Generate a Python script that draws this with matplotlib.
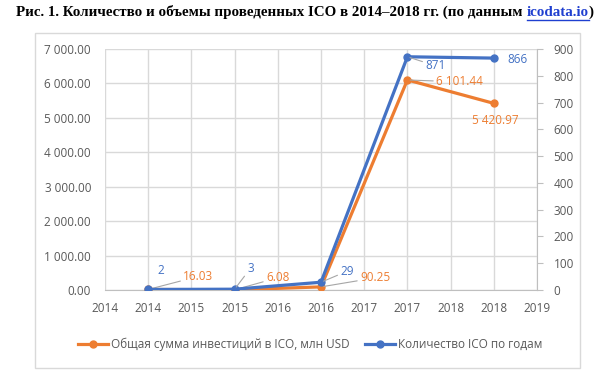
import matplotlib
matplotlib.use("Agg")
import matplotlib.pyplot as plt
import numpy as np
from matplotlib.patches import Rectangle
from matplotlib.lines import Line2D

# Data
years = [2014, 2015, 2016, 2017, 2018]
invest = [16.03, 6.08, 90.25, 6101.44, 5420.97]     # млн USD, left axis
ico_count = [2, 3, 29, 871, 866]                    # right axis
invest_labels = ["16.03", "6.08", "90.25", "6 101.44", "5 420.97"]
count_labels = ["2", "3", "29", "871", "866"]
x_tick_labels = ["2014", "2014", "2015", "2015", "2016", "2016",
                 "2017", "2017", "2018", "2018", "2019"]
left_ticks = [0, 1000, 2000, 3000, 4000, 5000, 6000, 7000]
left_tick_labels = ["0.00", "1 000.00", "2 000.00", "3 000.00",
                    "4 000.00", "5 000.00", "6 000.00", "7 000.00"]
right_ticks = [0, 100, 200, 300, 400, 500, 600, 700, 800, 900]
series_names = ["Общая сумма инвестиций в ICO, млн USD",
                "Количество ICO по годам"]

ORANGE = "#ED7D31"
BLUE = "#4472C4"
GRID = "#D9D9D9"
TXT = "#595959"
FONT = "Open Sans"
FS = 8.5

W, H = 610, 373
fig = plt.figure(figsize=(W / 100, H / 100), dpi=100)

# chart frame (Excel-like box)
fig.patches.append(Rectangle((35 / W, 1 - 368 / H), 545 / W, 335 / H,
                             transform=fig.transFigure, fill=False,
                             edgecolor=GRID, lw=1))

ax = fig.add_axes([105 / W, 1 - 290 / H, 432 / W, 241 / H])
ax2 = ax.twinx()

ax.plot(years, invest, color=ORANGE, lw=2.3, marker="o", ms=5, zorder=3)
ax2.plot(years, ico_count, color=BLUE, lw=2.3, marker="o", ms=5, zorder=3)

ax.set_xlim(2013.5, 2018.5)
ax.set_ylim(0, 7000)
ax2.set_ylim(0, 900)
ax.set_xticks(np.arange(2013.5, 2018.6, 0.5))
ax.set_xticklabels(x_tick_labels)
ax.set_yticks(left_ticks)
ax.set_yticklabels(left_tick_labels)
ax2.set_yticks(right_ticks)

ax.grid(True, color=GRID, lw=1)
ax.set_axisbelow(True)
for a in (ax, ax2):
    for s in ("top", "left"):
        a.spines[s].set_visible(False)
    a.spines["bottom"].set_color("#BFBFBF")
    a.spines["right"].set_color("#BFBFBF")
ax.spines["right"].set_visible(False)
ax2.spines["bottom"].set_visible(False)

ax.tick_params(axis="x", length=0, pad=9, labelsize=FS, labelcolor=TXT)
ax.tick_params(axis="y", length=0, pad=10, labelsize=FS, labelcolor=TXT)
ax2.tick_params(axis="y", length=4, color="#BFBFBF", pad=8, labelsize=FS,
                labelcolor=TXT)
for t in ax.get_xticklabels() + ax.get_yticklabels() + ax2.get_yticklabels():
    t.set_fontfamily(FONT)

# data labels (offsets in pixels), leader=True draws grey leader line
inv_off = [(50, 13, True), (43, 12, True), (54, 9, True), (52, -2, True), (2, -17, False)]
cnt_off = [(13, 19, False), (16, 21, True), (26, 11, True), (28, -9, True), (24, -1, False)]

def label(a, x, y, txt, off, color):
    dx, dy, lead = off
    kw = {}
    if lead:
        kw["arrowprops"] = dict(arrowstyle="-", color="#A6A6A6", lw=0.8,
                                shrinkA=0, shrinkB=2)
    a.annotate(txt, (x, y), xytext=(dx, dy), textcoords="offset pixels",
               ha="center", va="center", color=color, fontsize=FS,
               family=FONT, zorder=5, **kw)

for x, y, t, o in zip(years, invest, invest_labels, inv_off):
    label(ax, x, y, t, o, ORANGE)
for x, y, t, o in zip(years, ico_count, count_labels, cnt_off):
    label(ax2, x, y, t, o, BLUE)

# legend
handles = [Line2D([], [], color=ORANGE, lw=2.3, marker="o", ms=5),
           Line2D([], [], color=BLUE, lw=2.3, marker="o", ms=5)]
fig.legend(handles, series_names, loc="center", bbox_to_anchor=(310 / W, 1 - 344 / H),
           ncol=2, frameon=False, handlelength=2.6, handletextpad=0.2,
           columnspacing=1.3, prop={"family": FONT, "size": FS},
           labelcolor=TXT)

# title with underlined link part
parts = [("Рис. 1. Количество и объемы проведенных ICO в 2014–2018 гг. (по данным ", "black"),
         ("icodata.io", "#1F3FD0"),
         (")", "black")]
title_kw = dict(family="Liberation Serif", weight="bold", fontsize=10.8)
fig.canvas.draw()
r = fig.canvas.get_renderer()

def width(s):
    t = fig.text(0, 0, s, **title_kw)
    w = t.get_window_extent(r).width
    t.remove()
    return w

full = "".join(p[0] for p in parts)
total = width(full)
x0 = (W - total) / 2
acc = ""
starts = []
for s, c in parts:
    # start of each part = width of everything up to and including it minus its own width
    starts.append(x0 + width(acc + s) - width(s))
    acc += s
yt = 1 - 12 / H
for (s, c), xs in zip(parts, starts):
    fig.text(xs / W, yt, s, ha="left", va="center", color=c, **title_kw)
wl = width(parts[1][0])
yl = 1 - 19.5 / H
fig.lines.append(Line2D([starts[1] / W, (starts[1] + wl) / W], [yl, yl],
                        transform=fig.transFigure, color="#1F3FD0", lw=1))

fig.savefig("out.png", dpi=100)
